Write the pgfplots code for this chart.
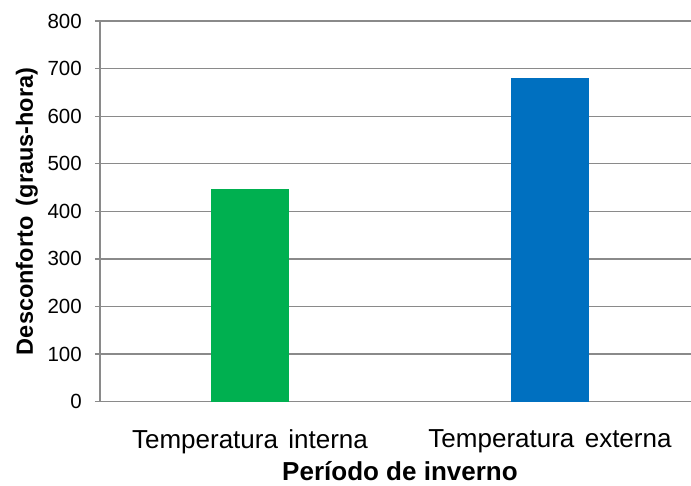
\documentclass[border=0pt]{standalone}
\usepackage{fontspec}
\setmainfont{Liberation Sans}
\usepackage{pgfplots}
\pgfplotsset{compat=1.18}
\usetikzlibrary{calc}
\definecolor{bargreen}{HTML}{00B050}
\definecolor{barblue}{HTML}{0070C0}
\definecolor{gridgray}{HTML}{8A8A8A}
\begin{document}
\begin{tikzpicture}
\begin{axis}[
  scale only axis, width=591bp, height=380.7bp,
  xmin=-0.5, xmax=1.47, ymin=0, ymax=800,
  ytick={0,100,200,300,400,500,600,700,800},
  xtick={0,1},
  xticklabels={Temperatura\hspace{0.4em}interna, Temperatura\hspace{0.4em}externa},
  axis x line*=bottom, axis y line*=left,
  axis line style={-, gridgray, line width=1.3bp},
  ymajorgrids, grid style={gridgray, line width=1.3bp},
  tick align=outside, major tick length=5bp,
  y tick style={gridgray, line width=1.3bp},
  x tick style={draw=none},
  /pgf/number format/assume math mode=true,
  yticklabel style={font=\fontsize{20.5bp}{24bp}\selectfont, inner sep=0pt, xshift=-13bp},
  xticklabel style={font=\fontsize{26bp}{30bp}\selectfont, inner sep=0pt, yshift=-23bp},
  xlabel={Período de inverno},
  ylabel={Desconforto\hspace{0.45em}(graus-hora)},
  xlabel style={font=\fontsize{26bp}{30bp}\selectfont\bfseries, at={(axis description cs:0.5076,-0.2075)}, anchor=base, inner sep=0pt},
  ylabel style={font=\fontsize{23.5bp}{28bp}\selectfont\bfseries, at={(axis description cs:-0.1134,0.5)}, anchor=base, inner sep=0pt},
]
\addplot[ybar, bar width=0.26, bar shift=0pt, fill=bargreen, draw=none] coordinates {(0,447)};
\addplot[ybar, bar width=0.26, bar shift=0pt, fill=barblue, draw=none] coordinates {(1,680)};
\end{axis}
\pgfresetboundingbox
\path ([xshift=-100bp,yshift=-84.3bp]current axis.south west) rectangle ([yshift=21bp]current axis.north east);
\end{tikzpicture}
\end{document}
